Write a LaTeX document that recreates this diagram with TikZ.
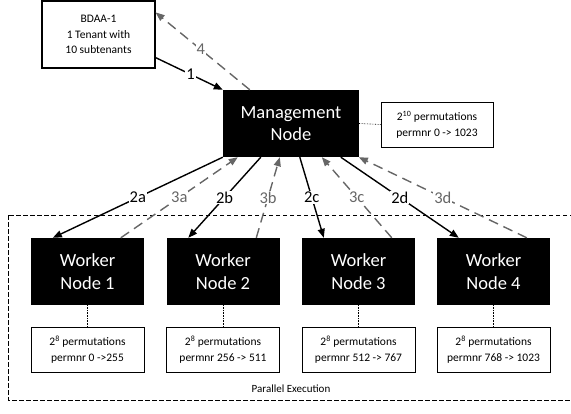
\documentclass[tikz,border=0pt]{standalone}
\usepackage{fontspec}
\setmainfont{Carlito}
\usetikzlibrary{arrows.meta,positioning,calc}
\definecolor{ReplyGray}{HTML}{666666}

\begin{document}
\begin{tikzpicture}[x=1pt,y=-1pt,every node/.style={align=center}]
  \tikzset{
    darkbox/.style={fill=black, text=white, inner sep=0pt,
      minimum width=113pt, minimum height=67pt,
      font=\fontsize{18.5}{22.5}\selectfont},
    permbox/.style={draw, line width=0.8pt, inner sep=0pt,
      minimum width=113pt, minimum height=45pt,
      font=\fontsize{11.5}{16}\selectfont},
    call/.style={line width=1.4pt, -{Triangle[length=9pt,width=7pt]}},
    reply/.style={line width=1.4pt, draw=ReplyGray, dash pattern=on 10pt off 6pt,
      -{Triangle[length=9pt,width=7pt]}},
    steplabel/.style={fill=white, inner sep=1pt, font=\fontsize{16.5}{18}\selectfont},
    tie/.style={densely dotted, line width=0.6pt}
  }
  \useasboundingbox (0,0) rectangle (571,413);

  % parallel execution frame
  \draw[line width=0.6pt, dash pattern=on 4.5pt off 2.5pt] (8,215) rectangle (575,400);
  \node[font=\fontsize{11}{13}\selectfont] (par) at (291,389) {Parallel Execution};

  \node[draw, line width=1.2pt, inner sep=0pt, minimum width=113pt, minimum height=67pt,
    font=\fontsize{11.5}{15.5}\selectfont] (bdaa) at (98.5,34.5)
    {BDAA-1\\1 Tenant with\\10 subtenants};
  \node[darkbox, minimum width=136pt] (mgmt) at (291,123.5) {Management\\Node};
  \node[permbox, minimum width=112pt] (mperm) at (437,124.5)
    {2\textsuperscript{10} permutations\\permnr 0 -> 1023};
  \draw[tie] (mgmt.east) -- (mperm.west);

  \node[darkbox] (w1) at (87.5,271.5)  {Worker\\Node 1};
  \node[darkbox] (w2) at (223,271.5)   {Worker\\Node 2};
  \node[darkbox] (w3) at (358.5,271.5) {Worker\\Node 3};
  \node[darkbox] (w4) at (493.5,271.5) {Worker\\Node 4};

  \node[permbox] (p1) at (87.5,349.5)  {2\textsuperscript{8} permutations\\permnr 0 ->255};
  \node[permbox] (p2) at (223,349.5)   {2\textsuperscript{8} permutations\\permnr 256 -> 511};
  \node[permbox] (p3) at (358.5,349.5) {2\textsuperscript{8} permutations\\permnr 512 -> 767};
  \node[permbox] (p4) at (493.5,349.5) {2\textsuperscript{8} permutations\\permnr 768 -> 1023};

  \foreach \i in {1,...,4}
    \draw[tie] (w\i.south) -- (p\i.north);

  % request and result flows
  \draw[call] ([yshift=11pt]bdaa.south east) -- node[steplabel, pos=0.52] {1} (mgmt.north west);
  \draw[reply] ([xshift=27pt]mgmt.north west) -- node[steplabel, text=ReplyGray, pos=0.52] {4}
    ([yshift=-12pt]bdaa.north east);

  \foreach \i/\s/\d/\l in {1/0/15/a, 2/38/57/b, 3/77/99/c, 4/118/136/d} {
    \draw[call] ([xshift=\s pt]mgmt.south west) -- node[steplabel] {2\l}
      ([xshift=22pt]w\i.north west);
    \draw[reply] ([xshift=90pt]w\i.north west) -- node[steplabel, text=ReplyGray] {3\l}
      ([xshift=\d pt]mgmt.south west);
  }
\end{tikzpicture}
\end{document}
